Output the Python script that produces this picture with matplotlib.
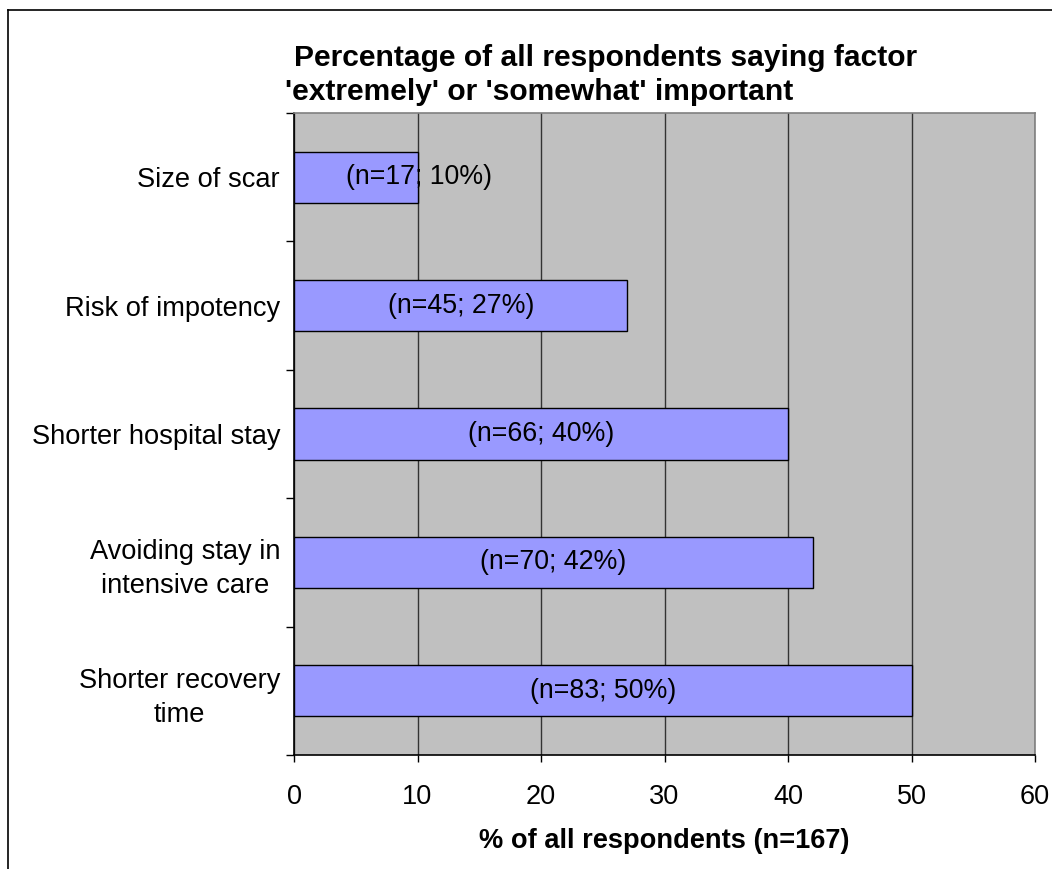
import matplotlib
matplotlib.use("Agg")
import matplotlib.pyplot as plt
from matplotlib.lines import Line2D
import numpy as np

categories = ["Size of scar", "Risk of impotency", "Shorter hospital stay",
              "Avoiding stay in\nintensive care", "Shorter recovery\ntime"]
counts = [17, 45, 66, 70, 83]
percents = [10, 27, 40, 42, 50]
xticks = [0, 10, 20, 30, 40, 50, 60]

plt.rcParams['font.family'] = ['Liberation Sans', 'DejaVu Sans']

W, H = 1052, 869
fig = plt.figure(figsize=(W / 100, H / 100), dpi=100)
fig.patch.set_facecolor('white')

L, R, T, B = 294, 1035, 113, 755
ax = fig.add_axes([L / W, 1 - B / H, (R - L) / W, (B - T) / H])
ax.set_facecolor('#C0C0C0')

pos = np.arange(len(categories))
ax.barh(pos, percents, height=0.4, color='#9999FF', edgecolor='black',
        linewidth=1.0, zorder=3)

for p, v, n in zip(pos, percents, counts):
    # Excel pushes a label that does not fit inside a short bar to the right
    xc = max(v / 2, 10.1)
    ax.text(xc, p, f"(n={n}; {v}%)", ha='center', va='center',
            fontsize=19.3, color='black', zorder=4)

ax.set_xlim(0, 60)
ax.set_ylim(len(categories) - 0.5, -0.5)
ax.set_xticks(xticks)
ax.set_xticklabels([str(t) for t in xticks], fontsize=19.5)
ax.tick_params(axis='x', length=5, width=1, pad=16, color='black')
ax.xaxis.grid(True, color='#333333', linewidth=1.0, zorder=1)
ax.set_axisbelow(True)

ax.set_yticks(pos)
ax.set_yticklabels(categories, fontsize=19.6, multialignment='center',
                   linespacing=1.4)
ax.tick_params(axis='y', which='major', length=0, pad=10)
ax.set_yticks(np.arange(-0.5, len(categories), 1.0), minor=True)
ax.tick_params(axis='y', which='minor', length=6, width=1, color='black')

for s in ['left', 'bottom']:
    ax.spines[s].set_color('black')
    ax.spines[s].set_linewidth(1.2)
for s in ['top', 'right']:
    ax.spines[s].set_color('#808080')
    ax.spines[s].set_linewidth(1.2)

fig.text(664.5 / W, 1 - 848 / H, "% of all respondents (n=167)",
         ha='center', va='baseline', fontsize=19.6, fontweight='bold')

fig.text(294 / W, 1 - 66 / H, "Percentage of all respondents saying factor",
         ha='left', va='baseline', fontsize=21.6, fontweight='bold')
fig.text(285 / W, 1 - 100 / H, "'extremely' or 'somewhat' important",
         ha='left', va='baseline', fontsize=21.6, fontweight='bold')

# outer chart border (only top and left edges are visible in the crop)
fig.add_artist(Line2D([8 / W, 1.0], [1 - 10 / H, 1 - 10 / H], color='black',
                      linewidth=1.2, transform=fig.transFigure))
fig.add_artist(Line2D([8 / W, 8 / W], [0.0, 1 - 10 / H], color='black',
                      linewidth=1.2, transform=fig.transFigure))

fig.savefig("out.png", dpi=100)
